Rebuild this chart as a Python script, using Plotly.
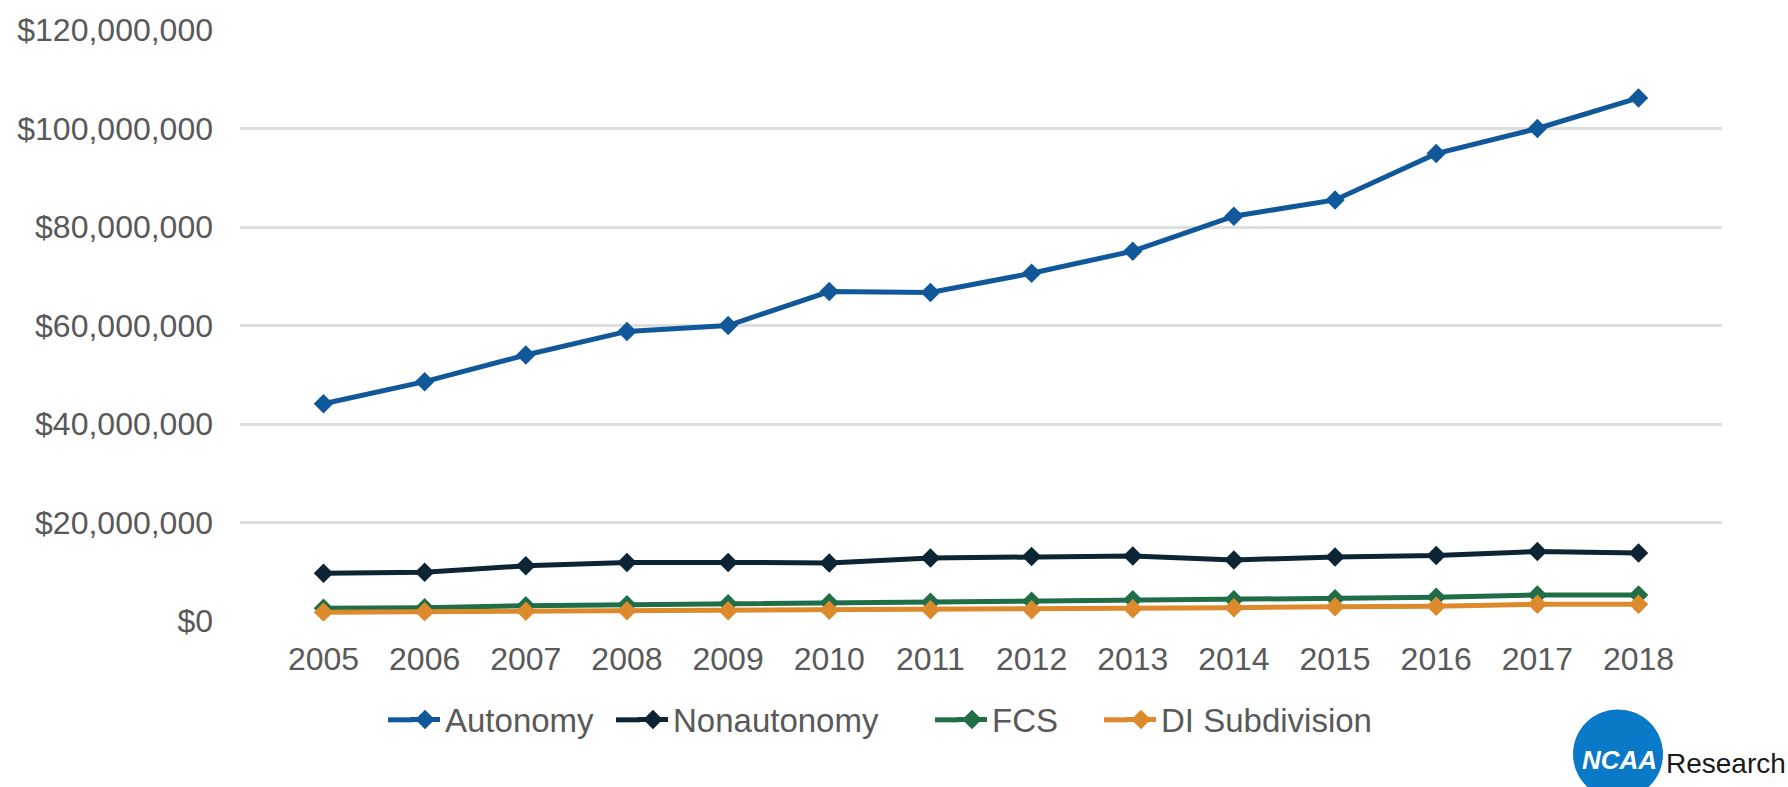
import plotly.graph_objects as go

# Average annual athletics spending by FBS/DI subdivision, 2005-2018
years = ["2005", "2006", "2007", "2008", "2009", "2010", "2011",
         "2012", "2013", "2014", "2015", "2016", "2017", "2018"]

autonomy = [44.1e6, 48.6e6, 54.0e6, 58.8e6, 60.0e6, 66.9e6, 66.7e6,
            70.6e6, 75.1e6, 82.2e6, 85.5e6, 94.9e6, 100.0e6, 106.2e6]
nonautonomy = [9.7e6, 9.9e6, 11.2e6, 11.9e6, 11.9e6, 11.8e6, 12.8e6,
               13.1e6, 13.2e6, 12.4e6, 13.0e6, 13.3e6, 14.1e6, 13.8e6]
fcs = [2.6e6, 2.7e6, 3.1e6, 3.3e6, 3.5e6, 3.7e6, 3.8e6,
       4.0e6, 4.3e6, 4.3e6, 4.5e6, 4.8e6, 5.3e6, 5.3e6]
di_subdivision = [1.8e6, 1.9e6, 2.0e6, 2.1e6, 2.1e6, 2.2e6, 2.3e6,
                  2.3e6, 2.5e6, 2.7e6, 2.9e6, 3.0e6, 3.4e6, 3.4e6]

y_ticks = [0, 20e6, 40e6, 60e6, 80e6, 100e6, 120e6]
y_tick_text = ["$0", "$20,000,000", "$40,000,000", "$60,000,000",
               "$80,000,000", "$100,000,000", "$120,000,000"]

series_names = ["Autonomy", "Nonautonomy", "FCS", "DI Subdivision"]
series_values = [autonomy, nonautonomy, fcs, di_subdivision]
series_colors = ["#10589a", "#0c2434", "#1f6e47", "#dc8a2c"]
# left edge (px) of each legend entry's text
legend_text_x = [445, 673, 992, 1161]

W, H = 1788, 787
L, R, T, B = 240, 66, 26, 166
plot_w = W - L - R
plot_h = H - T - B
LEGEND_TOP = 692
LEGEND_LINE_Y = 720.5


def px_x(px):
    return (px - L) / plot_w


def px_y(py):
    return (H - B - py) / plot_h


FONT = "Liberation Sans, Arial, sans-serif"
GRAY = "#595959"
SIZE = 32
LEGEND_SIZE = 33

fig = go.Figure()
legend_layouts = {}
for i, (name, values, color) in enumerate(zip(series_names, series_values, series_colors)):
    key = "legend" if i == 0 else f"legend{i + 1}"
    fig.add_trace(go.Scatter(
        x=years, y=values, name=name, mode="lines+markers",
        line=dict(color=color, width=5),
        marker=dict(symbol="diamond", size=15, color=color),
        legend=key,
    ))
    legend_layouts[key] = dict(
        orientation="h", x=px_x(legend_text_x[i] - 40), xanchor="left",
        y=px_y(LEGEND_TOP), yanchor="top", bgcolor="rgba(0,0,0,0)",
        font=dict(family=FONT, size=LEGEND_SIZE, color=GRAY),
        itemwidth=30,
    )
    # lengthen the short legend key line to the left
    fig.add_shape(
        type="line", xref="paper", yref="paper",
        x0=px_x(legend_text_x[i] - 57), x1=px_x(legend_text_x[i] - 33),
        y0=px_y(LEGEND_LINE_Y), y1=px_y(LEGEND_LINE_Y),
        line=dict(color=color, width=5), layer="above",
    )

fig.update_layout(
    width=W, height=H,
    margin=dict(l=L, r=R, t=T, b=B),
    paper_bgcolor="white", plot_bgcolor="white",
    font=dict(family=FONT, size=SIZE, color=GRAY),
    showlegend=True,
    xaxis=dict(
        type="category", showgrid=False, zeroline=False,
        showline=False, ticks="", ticklabelstandoff=16,
        tickfont=dict(family=FONT, size=SIZE, color=GRAY),
    ),
    yaxis=dict(
        range=[0, 120e6], tickvals=y_ticks, ticktext=y_tick_text,
        showgrid=True, gridcolor="#dedede", gridwidth=2.5,
        zeroline=False, showline=False, ticks="",
        ticklabelstandoff=26,
        tickfont=dict(family=FONT, size=SIZE, color=GRAY),
    ),
    **legend_layouts,
)

# NCAA Research logo in the lower-right corner
fig.add_shape(
    type="circle", xref="paper", yref="paper",
    x0=px_x(1573), x1=px_x(1663), y0=px_y(800), y1=px_y(710),
    fillcolor="#0a79c8", line=dict(width=0), layer="above",
)
fig.add_annotation(
    text="<b><i>NCAA</i></b>", xref="paper", yref="paper",
    x=px_x(1619), y=px_y(761), xanchor="center", yanchor="middle",
    showarrow=False, font=dict(family=FONT, size=26, color="white"),
)
fig.add_annotation(
    text="Research", xref="paper", yref="paper",
    x=px_x(1664), y=px_y(764), xanchor="left", yanchor="middle",
    showarrow=False, font=dict(family=FONT, size=28, color="#1a1a1a"),
)

fig.write_html("out.html")
